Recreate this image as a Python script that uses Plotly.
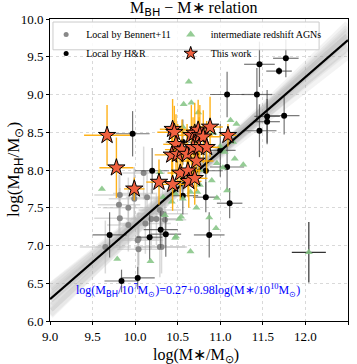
import plotly.graph_objects as go

# ---------------- data ----------------
bennert_x = [10.10, 9.82, 9.99, 9.99, 10.14, 9.92, 10.29, 10.32, 10.25, 10.19, 10.35, 9.82, 9.92, 10.12, 10.04, 10.29, 9.65, 10.04, 10.31, 9.81, 10.03]
bennert_y = [7.96, 7.67, 7.69, 7.62, 7.64, 7.50, 7.47, 7.42, 7.35, 7.35, 7.34, 7.36, 7.27, 7.29, 7.09, 6.98, 6.98, 6.95, 6.98, 7.54, 7.07]
bennert_xerr = [0.25, 0.30, 0.25, 0.30, 0.25, 0.30, 0.25, 0.30, 0.25, 0.30, 0.25, 0.30, 0.25, 0.30, 0.25, 0.30, 0.30, 0.25, 0.30, 0.25, 0.30]
bennert_yerr = [0.35, 0.40, 0.35, 0.40, 0.35, 0.40, 0.35, 0.40, 0.35, 0.40, 0.35, 0.40, 0.35, 0.40, 0.35, 0.40, 0.35, 0.40, 0.35, 0.40, 0.35]

hr_x = [11.46, 11.77, 11.69, 11.08, 11.43, 11.55, 11.75, 11.55, 11.46, 9.97, 10.20, 10.56, 10.83, 11.08, 11.00, 10.83, 11.11, 10.56, 10.30, 10.17, 10.87, 9.70, 10.36, 9.84, 10.03]
hr_y = [9.40, 9.48, 9.31, 9.00, 9.00, 8.71, 8.72, 8.64, 8.52, 8.48, 7.99, 8.37, 7.99, 8.04, 8.26, 7.64, 7.56, 7.66, 7.21, 7.11, 7.14, 7.14, 7.15, 6.53, 6.57]
hr_xerr = [0.18, 0.15, 0.15, 0.20, 0.18, 0.15, 0.18, 0.15, 0.20, 0.20, 0.20, 0.20, 0.20, 0.20, 0.18, 0.15, 0.15, 0.18, 0.20, 0.15, 0.18, 0.20, 0.18, 0.20, 0.20]
hr_yerr = [0.30, 0.25, 0.05, 0.30, 0.35, 0.35, 0.25, 0.30, 0.35, 0.30, 0.30, 0.30, 0.35, 0.30, 0.35, 0.20, 0.20, 0.25, 0.25, 0.30, 0.30, 0.30, 0.30, 0.15, 0.15]

star_x = [9.67, 9.78, 9.99, 10.28, 10.44, 10.44, 10.46, 10.48, 10.43, 10.50, 10.55, 10.61, 10.66, 10.70, 10.74, 10.76, 10.80, 10.68, 10.75, 10.84, 10.72, 10.88, 11.09, 10.53, 10.62, 10.63, 10.70]
star_y = [8.46, 8.03, 7.75, 7.84, 7.81, 8.54, 8.50, 8.34, 8.20, 8.21, 8.27, 8.21, 8.46, 8.49, 8.53, 8.46, 8.44, 8.30, 8.30, 8.30, 8.12, 8.57, 8.46, 7.96, 7.99, 7.85, 7.89]
star_xerr = [0.27, 0.20, 0.12, 0.15, 0.20, 0.15, 0.20, 0.15, 0.20, 0.15, 0.20, 0.15, 0.20, 0.15, 0.20, 0.15, 0.20, 0.15, 0.20, 0.15, 0.20, 0.15, 0.10, 0.15, 0.15, 0.15, 0.15]
star_yerr = [0.40, 0.40, 0.15, 0.30, 0.35, 0.40, 0.35, 0.40, 0.35, 0.40, 0.40, 0.40, 0.40, 0.40, 0.40, 0.40, 0.35, 0.40, 0.40, 0.35, 0.40, 0.40, 0.15, 0.35, 0.35, 0.35, 0.35]

agn_x = [10.63, 10.57, 10.66, 10.74, 11.12, 11.19, 10.56, 10.92, 11.11, 11.15, 11.00, 11.05, 11.17, 11.27, 10.96, 11.03, 10.76, 10.90, 10.76, 10.73, 10.65, 10.56, 10.47, 10.33, 10.29, 9.61, 10.43, 10.54, 10.52, 10.87, 10.95, 10.96, 11.08, 10.48, 9.79, 10.18, 10.65, 10.72, 10.35, 10.47]
agn_y = [9.17, 8.87, 8.89, 8.76, 8.66, 8.61, 8.57, 8.49, 8.42, 8.37, 8.31, 8.24, 8.15, 8.07, 8.09, 8.03, 8.00, 7.86, 7.80, 7.71, 7.71, 7.62, 7.69, 7.64, 7.97, 7.75, 7.58, 7.38, 7.35, 7.37, 7.23, 7.63, 7.73, 7.12, 6.82, 6.79, 6.92, 7.50, 7.40, 7.10]

typ_x = [12.04]
typ_y = [6.91]
typ_xerr = [0.20]
typ_yerr = [0.40]

fit_a = 0.27   # log(MBH/1e7) at log(M*/1e10)=0
fit_b = 0.98
boot_intercepts = [7.74, 7.79, 7.76, 7.72, 7.80, 7.77, 7.75, 7.78, 7.73, 7.76, 7.81, 7.71]
boot_slopes = [1.05, 0.92, 0.98, 1.08, 0.90, 1.02, 0.95, 0.99, 1.10, 0.88, 0.97, 1.03]
line_x = [9.0, 12.5]

serif = "Liberation Serif"
sans = "DejaVu Sans"

GRAY = "#888888"
GREEN = "rgba(130,195,130,0.85)"
STAR = "#f0603f"

fig = go.Figure()

# bootstrap band
for a, b in zip(boot_intercepts, boot_slopes):
    fig.add_trace(go.Scatter(x=line_x, y=[a + b * (xx - 10.5) for xx in line_x], mode="lines",
                             line=dict(color="rgba(160,160,160,0.13)", width=8),
                             showlegend=False, hoverinfo="skip"))

fig.add_trace(go.Scatter(
    x=bennert_x, y=bennert_y, mode="markers", showlegend=False,
    marker=dict(color=GRAY, size=6),
    error_x=dict(array=bennert_xerr, color="rgba(185,185,185,0.55)", thickness=1.5, width=0),
    error_y=dict(array=bennert_yerr, color="rgba(185,185,185,0.55)", thickness=1.5, width=0)))

fig.add_trace(go.Scatter(
    x=hr_x, y=hr_y, mode="markers", showlegend=False,
    marker=dict(color="black", size=6),
    error_x=dict(array=hr_xerr, color="rgba(70,70,70,0.75)", thickness=1.2, width=0),
    error_y=dict(array=hr_yerr, color="rgba(70,70,70,0.75)", thickness=1.2, width=0)))

fig.add_trace(go.Scatter(
    x=agn_x, y=agn_y, mode="markers", showlegend=False,
    marker=dict(color=GREEN, size=7, symbol="triangle-up")))

fig.add_trace(go.Scatter(
    x=typ_x, y=typ_y, mode="markers", showlegend=False,
    marker=dict(color=GREEN, size=7, symbol="triangle-up"),
    error_x=dict(array=typ_xerr, color="#333333", thickness=1.2, width=0),
    error_y=dict(array=typ_yerr, color="#333333", thickness=1.2, width=0)))

# fit line
fig.add_trace(go.Scatter(x=line_x, y=[7 + fit_a + fit_b * (xx - 10) for xx in line_x], mode="lines",
                         line=dict(color="black", width=2.2), showlegend=False, hoverinfo="skip"))

fig.add_trace(go.Scatter(
    x=star_x, y=star_y, mode="markers", showlegend=False,
    marker=dict(color=STAR, size=13, symbol="star", line=dict(color="black", width=1)),
    error_x=dict(array=star_xerr, color="rgba(255,170,0,0.9)", thickness=1.4, width=0),
    error_y=dict(array=star_yerr, color="rgba(255,170,0,0.9)", thickness=1.4, width=0)))

# legend-only entries (small markers, as in the reference), split in two columns
legend_items = [
    ("Local by Bennert+11", dict(color=GRAY, size=5), "legend"),
    ("Local by H&R", dict(color="black", size=5), "legend"),
    ("intermediate redshift AGNs", dict(color=GREEN, size=8, symbol="triangle-up"), "legend2"),
    ("This work", dict(color=STAR, size=10, symbol="star", line=dict(color="black", width=1)), "legend2"),
]
for name, mk, lg in legend_items:
    fig.add_trace(go.Scatter(x=[None], y=[None], mode="markers", name=name, marker=mk, legend=lg))

axis_common = dict(showline=True, linecolor="black", linewidth=1, mirror=True,
                   showgrid=True, gridcolor="#d9d9d9", griddash="dot", gridwidth=1,
                   ticks="outside", ticklen=3, tickcolor="black", zeroline=False,
                   automargin=False,
                   tickfont=dict(family=serif, size=13, color="black"))

leg_common = dict(yanchor="top", xanchor="left", bgcolor="rgba(0,0,0,0)", borderwidth=0,
                  font=dict(family=serif, size=10, color="black"), itemsizing="trace",
                  tracegroupgap=0, orientation="v")

fig.update_layout(
    width=357, height=364,
    margin=dict(l=50, r=9, t=19, b=43),
    plot_bgcolor="white", paper_bgcolor="white",
    xaxis=dict(range=[9.0, 12.5], tickvals=[9.0, 9.5, 10.0, 10.5, 11.0, 11.5, 12.0, 12.5],
               ticktext=["9.0", "9.5", "10.0", "10.5", "11.0", "11.5", "12.0", "12.5"], **axis_common),
    yaxis=dict(range=[6.0, 10.0], tickvals=[6.0, 6.5, 7.0, 7.5, 8.0, 8.5, 9.0, 9.5, 10.0],
               ticktext=["6.0", "6.5", "7.0", "7.5", "8.0", "8.5", "9.0", "9.5", "10.0"], **axis_common),
    legend=dict(x=-0.013, y=0.997, **leg_common),
    legend2=dict(x=0.405, y=0.997, **leg_common),
    showlegend=True,
)

# legend frame
fig.add_shape(type="rect", xref="paper", yref="paper", x0=0.01, x1=0.903, y0=0.898, y1=0.99,
              line=dict(color="#cccccc", width=1), fillcolor="rgba(255,255,255,0.85)", layer="above")

fig.add_annotation(xref="paper", yref="paper", x=0.48, y=1.0, yshift=10, yanchor="middle",
                   showarrow=False,
                   text=f"M<sub><span style='font-family:{sans}'>BH</span></sub> − M∗ relation",
                   font=dict(family=serif, size=16, color="black"))
fig.add_annotation(xref="paper", yref="paper", x=0.49, y=0, yshift=-34, yanchor="middle",
                   showarrow=False,
                   text="log(M∗/M<sub>⊙</sub>)",
                   font=dict(family=serif, size=16, color="black"))
fig.add_annotation(xref="paper", yref="paper", x=0, xshift=-35, y=0.5, xanchor="center", yanchor="middle",
                   showarrow=False, textangle=-90,
                   text=f"log(M<sub><span style='font-family:{sans}'>BH</span></sub>/M<sub>⊙</sub>)",
                   font=dict(family=serif, size=17, color="black"))
fig.add_annotation(xref="paper", yref="paper", x=0.462, y=0.066, showarrow=False,
                   text=f"log(M<sub><span style='font-family:{sans}'>BH</span></sub>/10<sup>7</sup>M<sub>⊙</sub>)=0.27+0.98log(M∗/10<sup>10</sup>M<sub>⊙</sub>)",
                   font=dict(family=serif, size=12, color="blue"))

fig.write_html("out.html", config={"displayModeBar": False},
               post_script="document.body.style.margin='0';document.body.style.overflow='hidden';")
